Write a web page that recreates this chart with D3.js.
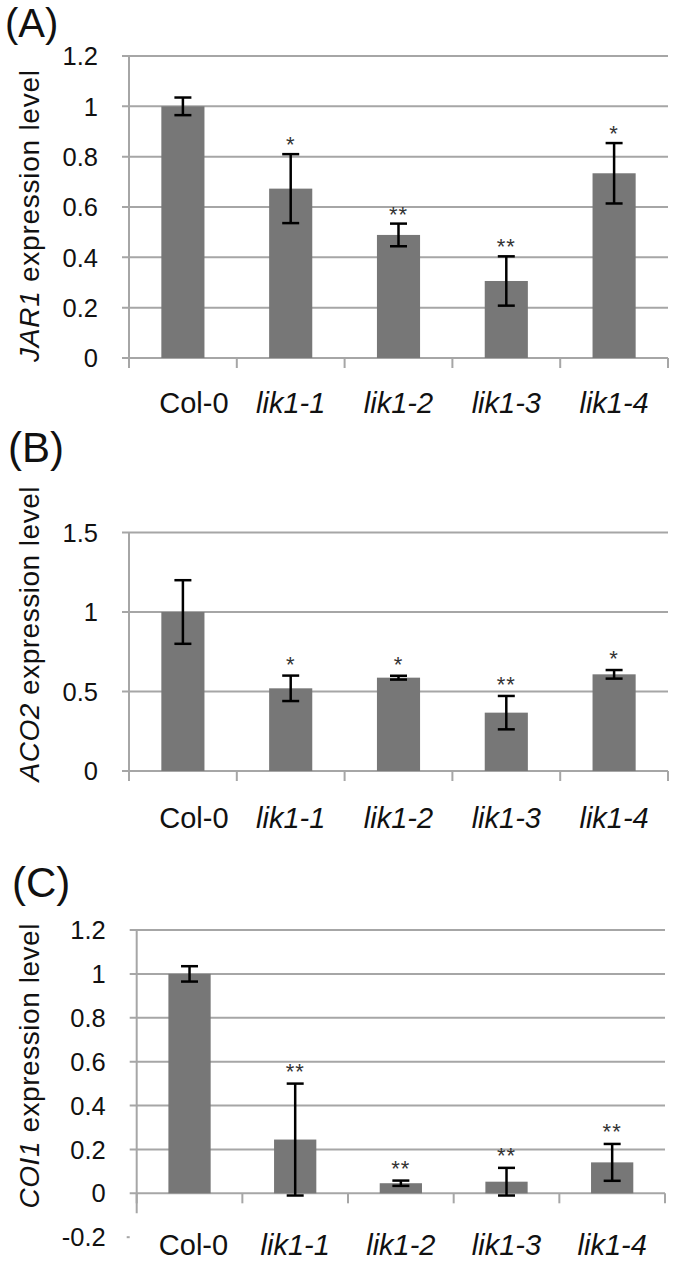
<!DOCTYPE html>
<html>
<head>
<meta charset="utf-8">
<script src="https://cdn.jsdelivr.net/npm/d3@7"></script>
<style>
  html, body { margin: 0; padding: 0; background: #fff; }
  svg { display: block; }
  text { font-family: "Liberation Sans", Arial, sans-serif; }
</style>
</head>
<body>
<div id="chart"></div>
<script>
// ---------- data ----------
const categories = ["Col-0", "lik1-1", "lik1-2", "lik1-3", "lik1-4"];
const italicCategory = [false, true, true, true, true];

const jar1Values = [1.0, 0.673, 0.489, 0.306, 0.734];
const jar1Errors = [0.035, 0.137, 0.045, 0.098, 0.12];
const jar1Sig = ["", "*", "**", "**", "*"];
const jar1Ticks = [0, 0.2, 0.4, 0.6, 0.8, 1, 1.2];

const aco2Values = [1.0, 0.52, 0.587, 0.367, 0.608];
const aco2Errors = [0.2, 0.08, 0.012, 0.105, 0.027];
const aco2Sig = ["", "*", "*", "**", "*"];
const aco2Ticks = [0, 0.5, 1, 1.5];

const coi1Values = [1.0, 0.245, 0.046, 0.053, 0.141];
const coi1Errors = [0.035, 0.255, 0.012, 0.063, 0.084];
const coi1Sig = ["", "**", "**", "**", "**"];
const coi1Ticks = [-0.2, 0, 0.2, 0.4, 0.6, 0.8, 1, 1.2];

const panelLabels = ["(A)", "(B)", "(C)"];
const geneNames = ["JAR1", "ACO2", "COI1"];
const titleRest = " expression level";

// ---------- layout ----------
const W = 678, H = 1263;
const svg = d3.select("#chart").append("svg").attr("width", W).attr("height", H);
svg.append("rect").attr("width", W).attr("height", H).attr("fill", "#fff");

const GRID = "#a6a6a6", BAR = "#777777";

const panels = [
  { label: panelLabels[0], gene: geneNames[0], values: jar1Values, errors: jar1Errors, sig: jar1Sig, ticks: jar1Ticks,
    domain: [0, 1.2], yr: [358, 56], xr: [129, 668], axisExt: 10,
    lab: { x: 5, y: 37, size: 40 }, titleY: 216, titleLen: 292, catBase: 55, sigGap: 2, colOff: 11, hideTicksBelowZero: false },
  { label: panelLabels[1], gene: geneNames[1], values: aco2Values, errors: aco2Errors, sig: aco2Sig, ticks: aco2Ticks,
    domain: [0, 1.5], yr: [771, 532.5], xr: [129, 668], axisExt: 10,
    lab: { x: 8, y: 462, size: 42 }, titleY: 634, titleLen: 295, catBase: 57, sigGap: 4, colOff: 11, hideTicksBelowZero: false },
  { label: panelLabels[2], gene: geneNames[2], values: coi1Values, errors: coi1Errors, sig: coi1Sig, ticks: coi1Ticks,
    domain: [-0.2, 1.2], yr: [1237.2, 930], xr: [136.7, 665], axisExt: 20,
    lab: { x: 12, y: 897, size: 42 }, titleY: 1066, titleLen: 285, catBase: 62, sigGap: 5, colOff: 4, hideTicksBelowZero: true }
];

panels.forEach(p => {
  const g = svg.append("g");
  const y = d3.scaleLinear().domain(p.domain).range(p.yr);
  const x = d3.scaleBand().domain(categories).range(p.xr).paddingInner(0.6).paddingOuter(0.3);
  const x0 = p.xr[0], x1 = p.xr[1];
  const y0 = y(0);

  // gridlines + tick labels
  p.ticks.forEach(t => {
    if (p.hideTicksBelowZero && t < 0) {
      g.append("line").attr("x1", x0 - 10).attr("x2", x0 - 7)
        .attr("y1", y(t)).attr("y2", y(t)).attr("stroke", GRID).attr("stroke-width", 2);
    } else {
      g.append("line").attr("x1", x0 - 7).attr("x2", x1)
        .attr("y1", y(t)).attr("y2", y(t)).attr("stroke", GRID).attr("stroke-width", 2);
    }
    g.append("text").attr("x", x0 - 31).attr("y", y(t)).attr("dy", "0.36em")
      .attr("text-anchor", "end").attr("font-size", 25.5).attr("fill", "#111").text(String(t));
  });

  // vertical axis
  g.append("line").attr("x1", x0).attr("x2", x0)
    .attr("y1", y(p.domain[1])).attr("y2", y0 + p.axisExt)
    .attr("stroke", GRID).attr("stroke-width", 2);

  // category ticks
  d3.range(categories.length + 1).forEach(i => {
    const xx = Math.min(p.xr[0] + i * x.step(), x1);
    g.append("line").attr("x1", xx).attr("x2", xx)
      .attr("y1", y0).attr("y2", y0 + 10).attr("stroke", GRID).attr("stroke-width", 2);
  });

  // bars
  g.selectAll("rect.bar").data(categories).enter().append("rect")
    .attr("class", "bar")
    .attr("x", d => x(d)).attr("width", x.bandwidth())
    .attr("y", (d, i) => y(Math.max(0, p.values[i])))
    .attr("height", (d, i) => Math.abs(y(p.values[i]) - y0))
    .attr("fill", BAR);

  // error bars + significance stars
  categories.forEach((c, i) => {
    const cx = x(c) + x.bandwidth() / 2;
    const hi = y(p.values[i] + p.errors[i]), lo = y(p.values[i] - p.errors[i]);
    const eg = g.append("g").attr("stroke", "#000").attr("stroke-width", 2.5);
    eg.append("line").attr("x1", cx).attr("x2", cx).attr("y1", hi).attr("y2", lo);
    eg.append("line").attr("x1", cx - 8.5).attr("x2", cx + 8.5).attr("y1", hi).attr("y2", hi);
    eg.append("line").attr("x1", cx - 8.5).attr("x2", cx + 8.5).attr("y1", lo).attr("y2", lo);
    if (p.sig[i]) {
      g.append("text").attr("x", cx).attr("y", hi - p.sigGap)
        .attr("text-anchor", "middle").attr("font-size", 22).attr("fill", "#333")
        .attr("letter-spacing", 1)
        .text(p.sig[i]);
    }
  });

  // category labels
  categories.forEach((c, i) => {
    g.append("text")
      .attr("x", x(c) + x.bandwidth() / 2 + (i === 0 ? p.colOff : 0))
      .attr("y", y0 + p.catBase)
      .attr("text-anchor", "middle").attr("font-size", 29).attr("fill", "#111")
      .attr("font-style", italicCategory[i] ? "italic" : "normal")
      .text(c);
  });

  // y title
  const tt = g.append("text")
    .attr("transform", `translate(39,${p.titleY}) rotate(-90)`)
    .attr("text-anchor", "middle").attr("font-size", 28).attr("fill", "#111")
    .attr("textLength", p.titleLen).attr("lengthAdjust", "spacing");
  tt.append("tspan").attr("font-style", "italic").text(p.gene);
  tt.append("tspan").text(titleRest);

  // panel label
  g.append("text").attr("x", p.lab.x).attr("y", p.lab.y)
    .attr("font-size", p.lab.size).attr("fill", "#111").text(p.label);
});
</script>
</body>
</html>
